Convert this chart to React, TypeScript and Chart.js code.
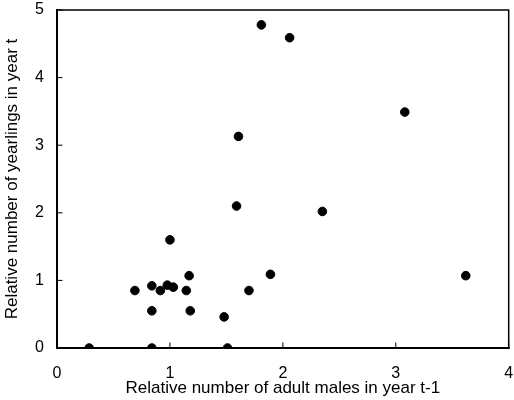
import React, { useEffect, useRef } from "react";
import { Chart, registerables } from "chart.js";

Chart.register(...registerables);

const adultMales: number[] = [
  0.285, 0.84, 1.51, 0.69, 0.84, 0.84, 0.915, 0.977, 1.03, 1.0, 1.145, 1.17,
  1.18, 1.48, 1.59, 1.7, 1.89, 2.35, 3.62, 1.607, 1.81, 2.06, 3.08,
];
const yearlings: number[] = [
  0, 0, 0, 0.85, 0.92, 0.55, 0.85, 0.93, 0.9, 1.6, 0.85, 1.07, 0.55, 0.46,
  2.1, 0.85, 1.09, 2.02, 1.07, 3.13, 4.78, 4.59, 3.49,
];
const xTicks: number[] = [0, 1, 2, 3, 4];
const yTicks: number[] = [0, 1, 2, 3, 4, 5];
const xTitle = "Relative number of adult males in year t-1";
const yTitle = "Relative number of yearlings in year t";

const framePlugin = {
  id: "frame",
  afterDatasetsDraw(chart: any) {
    const { ctx, chartArea, scales } = chart;
    const { left, right, top, bottom } = chartArea;
    ctx.save();
    ctx.strokeStyle = "#000";
    ctx.lineCap = "square";
    ctx.lineWidth = 2;
    ctx.beginPath();
    ctx.moveTo(left, top);
    ctx.lineTo(left, bottom);
    ctx.lineTo(right, bottom);
    ctx.stroke();
    ctx.lineWidth = 1.5;
    ctx.beginPath();
    ctx.moveTo(left, top);
    ctx.lineTo(right, top);
    ctx.lineTo(right, bottom);
    ctx.stroke();
    ctx.lineWidth = 1;
    ctx.beginPath();
    for (const v of xTicks) {
      const px = scales.x.getPixelForValue(v);
      ctx.moveTo(px, bottom);
      ctx.lineTo(px, bottom - 5);
    }
    for (const v of yTicks) {
      const py = scales.y.getPixelForValue(v);
      ctx.moveTo(left, py);
      ctx.lineTo(left + 5, py);
    }
    ctx.stroke();
    ctx.restore();
  },
};

const zeroPad = (s: any) => {
  s.paddingLeft = 0;
  s.paddingRight = 0;
  s.paddingTop = 0;
  s.paddingBottom = 0;
};

export default function App() {
  const ref = useRef<HTMLCanvasElement | null>(null);
  useEffect(() => {
    if (!ref.current) return;
    const data = adultMales.map((x, i) => ({ x, y: yearlings[i] }));
    const tickFont = { family: "Liberation Sans, Arial, sans-serif", size: 16 };
    const titleFont = { family: "Liberation Sans, Arial, sans-serif", size: 17 };
    const chart = new Chart(ref.current, {
      type: "scatter",
      data: {
        datasets: [
          {
            data,
            backgroundColor: "#000",
            borderColor: "#000",
            pointRadius: 4.3,
            pointHoverRadius: 4.3,
          },
        ],
      },
      options: {
        animation: false,
        responsive: false,
        events: [],
        layout: { padding: { left: 0, right: 4, top: 10, bottom: 0 } },
        plugins: { legend: { display: false }, tooltip: { enabled: false } },
        scales: {
          x: {
            type: "linear",
            min: 0,
            max: 4,
            afterBuildTicks: (s: any) => {
              s.ticks = xTicks.map((v) => ({ value: v }));
            },
            afterFit: (s: any) => {
              s.height = 52;
              zeroPad(s);
            },
            grid: { display: false, drawTicks: false },
            border: { display: false },
            ticks: { color: "#000", font: tickFont, padding: 16, maxRotation: 0 },
            title: {
              display: true,
              text: xTitle,
              color: "#000",
              font: titleFont,
              padding: { top: 0, bottom: 1 },
            },
          },
          y: {
            type: "linear",
            min: 0,
            max: 5,
            afterBuildTicks: (s: any) => {
              s.ticks = yTicks.map((v) => ({ value: v }));
            },
            afterFit: (s: any) => {
              s.width = 57;
              zeroPad(s);
            },
            grid: { display: false, drawTicks: false },
            border: { display: false },
            ticks: { color: "#000", font: tickFont, padding: 13 },
            title: {
              display: true,
              text: yTitle,
              color: "#000",
              font: titleFont,
              padding: { top: 2, bottom: 0 },
            },
          },
        },
      },
      plugins: [framePlugin],
    });
    return () => chart.destroy();
  }, []);
  return (
    <div style={{ position: "fixed", left: 0, top: 0, width: 514, height: 400, background: "#fff" }}>
      <canvas ref={ref} width={514} height={400} style={{ display: "block" }} />
    </div>
  );
}
